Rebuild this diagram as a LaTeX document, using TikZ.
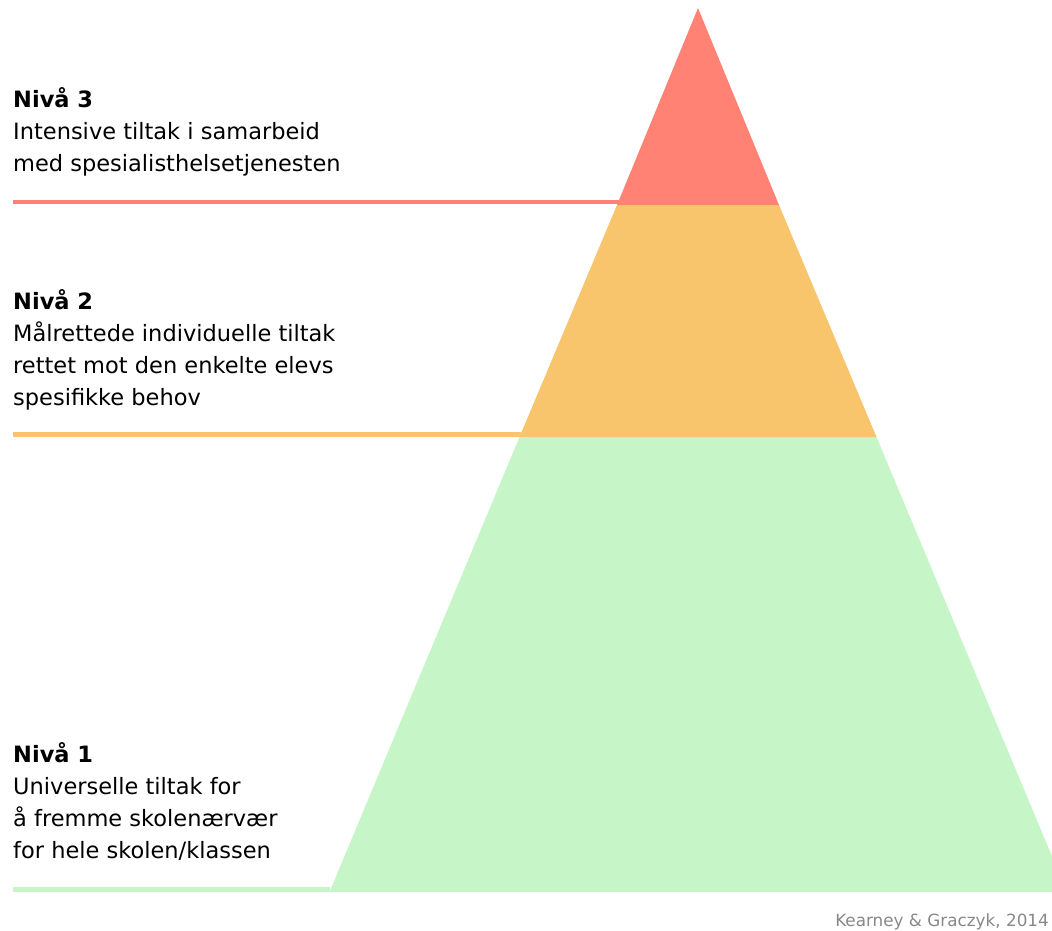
\documentclass[tikz,border=0pt]{standalone}
\usepackage{fontspec}
\setmainfont{DejaVu Sans}
\definecolor{lvred}{RGB}{255,130,116}
\definecolor{lvorange}{RGB}{248,197,108}
\definecolor{lvgreen}{RGB}{198,246,200}
\definecolor{srcgray}{RGB}{136,136,136}
\newcommand{\lvlines}[1]{\parbox[t]{500pt}{\raggedright\fontsize{22.5}{32}\selectfont #1}}
\tikzset{
  lvtext/.style={anchor=base west, inner sep=0pt, text=black},
  lvline/.style={line width=4.5pt},
}
\begin{document}
\begin{tikzpicture}[x=1pt,y=-1pt]
\useasboundingbox (0,0) rectangle (1052,930);
% pyramid layers
\fill[lvgreen] (519.5,437) -- (876.5,437) -- (1067,892) -- (329.5,892) -- cycle;
\fill[lvorange] (617,205) -- (779,205) -- (876.5,437) -- (519.5,437) -- cycle;
\fill[lvred] (698,8) -- (779,205) -- (617,205) -- cycle;
% guide lines
\coordinate (l3a) at (13,202);
\coordinate (l3b) at (658,202);
\coordinate (l2a) at (13,434.5);
\coordinate (l2b) at (521,434.5);
\coordinate (l1a) at (13,889.5);
\coordinate (l1b) at (330,889.5);
\draw[lvline, lvred] (l3a) -- (l3b);
\draw[lvline, lvorange] (l2a) -- (l2b);
\draw[lvline, lvgreen] (l1a) -- (l1b);
% labels
\node[lvtext] (t3) at (13,107.3) {\lvlines{\textbf{Nivå 3}\\Intensive tiltak i samarbeid\\med spesialisthelsetjenesten}};
\node[lvtext] (t2) at (13,309.3) {\lvlines{\textbf{Nivå 2}\\Målrettede individuelle tiltak\\rettet mot den enkelte elevs\\spesifikke behov}};
\node[lvtext] (t1) at (13,762.3) {\lvlines{\textbf{Nivå 1}\\Universelle tiltak for\\å fremme skolenærvær\\for hele skolen/klassen}};
\node[anchor=base east, inner sep=0pt, font=\fontsize{16.8}{20}\selectfont, text=srcgray] (src) at (1049,926) {Kearney \& Graczyk, 2014};
\end{tikzpicture}
\end{document}
